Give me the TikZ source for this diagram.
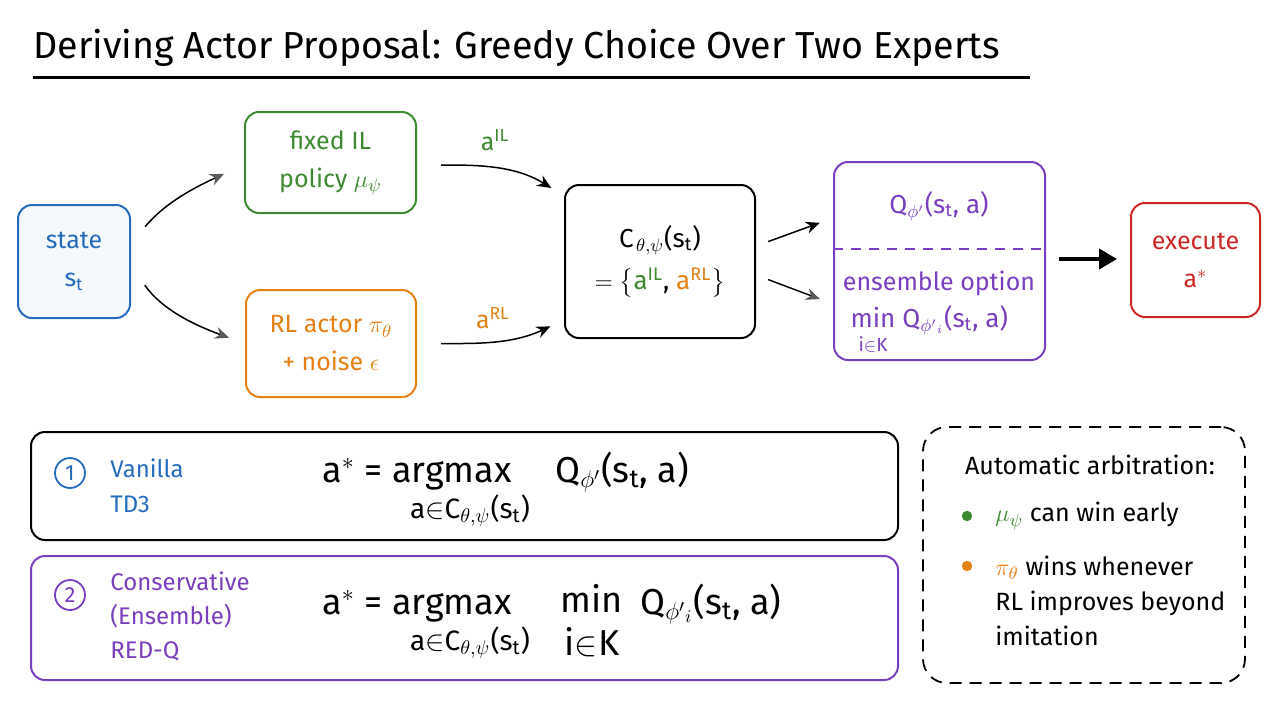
\documentclass[tikz,border=0pt]{standalone}
\usepackage{amsmath}
\usepackage{fontspec}
\setmainfont{Fira Sans}
\usetikzlibrary{arrows.meta,calc}
\definecolor{cblue}{RGB}{38,108,190}
\definecolor{cgreen}{RGB}{62,138,48}
\definecolor{corange}{RGB}{228,128,20}
\definecolor{cpurple}{RGB}{122,62,192}
\definecolor{cred}{RGB}{205,38,38}
\newcommand{\tx}[1]{\text{#1}}
\begin{document}
\begin{tikzpicture}[x=0.5pt,y=-0.5pt,
  box/.style={draw, rounded corners=7pt, line width=1pt, fill=white, inner sep=0pt},
  txt/.style={font=\fontsize{12.5}{19}\selectfont, align=center, inner sep=0pt},
  arr/.style={-{Stealth[length=7pt,width=6pt]}, line width=0.75pt},
  garr/.style={-{Stealth[length=7pt,width=6pt,color=black!65]}, line width=0.75pt},
  bigarr/.style={-{Triangle[length=9pt,width=10pt]}, line width=2pt},
  formula/.style={font=\fontsize{18}{20}\selectfont, inner sep=0pt},
  limtxt/.style={font=\fontsize{14}{16}\selectfont, inner sep=0pt},
]
\useasboundingbox (0,0) rectangle (1280,720);

% title
\node[anchor=base west, font=\fontsize{18.8}{22}\selectfont, inner sep=0pt] (title) at (33,58)
  {Deriving Actor Proposal: Greedy Choice Over Two Experts};
\draw[line width=1.5pt] (33,77) coordinate (ulA) -- (1030,77) coordinate (ulB);

% top row boxes
\node[box, txt, draw=cblue, fill=cblue!4, text=cblue, minimum width=56pt, minimum height=56.5pt] (state) at (74,261.5)
  {state\\s$_{\tx{t}}$};
\node[box, txt, draw=cgreen, text=cgreen, minimum width=85.5pt, minimum height=50.5pt] (il) at (330.5,162.5)
  {fixed IL\\policy $\mu_\psi$};
\node[box, txt, draw=corange, text=corange, minimum width=85pt, minimum height=53.5pt] (rl) at (331,343.5)
  {RL actor $\pi_\theta$\\+ noise $\epsilon$};
\node[box, txt, draw=black, minimum width=95pt, minimum height=76.5pt, font=\fontsize{13}{20}\selectfont] (cand) at (660,261.5)
  {C\kern1.2pt$_{\theta,\psi}$(s$_{\tx{t}}$)\\[1pt] $=\big\{${\color{cgreen}a$^{\tx{IL}}$}, {\color{corange}a$^{\tx{RL}}$}$\big\}$};
\node[box, draw=cpurple, minimum width=105.5pt, minimum height=99pt] (q) at (939.5,261) {};
\draw[cpurple, line width=0.8pt, dash pattern=on 5pt off 4pt] (q.west |- 0,249) coordinate (qdl) -- (q.east |- 0,249) coordinate (qdr);
\node[txt, text=cpurple, font=\fontsize{13}{20}\selectfont] (qtop) at (939,206) {Q$_{\phi'}$(s$_{\tx{t}}$, a)};
\node[txt, text=cpurple] (ens) at (939,283) {ensemble option};
\node[txt, text=cpurple, anchor=base, font=\fontsize{13}{20}\selectfont] (minw) at (873,327) {min};
\node[txt, text=cpurple, anchor=north, font=\fontsize{9.5}{11}\selectfont] (minsub) at (873,336) {i$\in$K};
\node[txt, text=cpurple, anchor=base west, font=\fontsize{13}{20}\selectfont] (minq) at (902,327)
  {Q$_{\phi'{}_i}$(s$_{\tx{t}}$, a)};
\node[box, txt, draw=cred, text=cred, minimum width=64.5pt, minimum height=57pt] (exec) at (1195.5,260)
  {execute\\a$^{*}$};

% connectors
\draw[garr, shorten <=11pt, shorten >=11pt] ([yshift=9pt]state.east) to[out=50,in=205] ([yshift=-1pt]il.west);
\draw[garr, shorten <=12pt, shorten >=8.5pt] ([yshift=-2pt]state.east) to[out=-55,in=160] (rl.west);
\draw[arr, shorten <=12pt, shorten >=7.5pt] ([yshift=-1.25pt]il.east) to[out=0,in=148] ([yshift=32.75pt]cand.west);
\draw[arr, shorten <=12pt, shorten >=7.5pt] (rl.east) to[out=0,in=205] ([yshift=-29.25pt]cand.west);
\node[text=cgreen, font=\fontsize{12.5}{15}\selectfont, inner sep=0pt] (lil) at (495,140) {a$^{\tx{IL}}$};
\node[text=corange, font=\fontsize{12.5}{15}\selectfont, inner sep=0pt] (lrl) at (493,318) {a$^{\tx{RL}}$};
\draw[arr, shorten <=6.5pt, shorten >=7pt] ([yshift=7.75pt]cand.east) -- ([yshift=21.5pt]q.west);
\draw[garr, shorten <=6.5pt, shorten >=7pt] ([yshift=-6.75pt]cand.east) -- ([yshift=-21.5pt]q.west);
\draw[bigarr, shorten <=6.5pt, shorten >=6.5pt] ([yshift=1pt]q.east) -- ([yshift=0.5pt]exec.west);

% bottom option boxes
\node[box, draw=black, minimum width=433.5pt, minimum height=54pt] (v1) at (464.5,486) {};
\node[circle, draw=cblue, line width=0.9pt, minimum size=15pt, inner sep=0pt, text=cblue, font=\fontsize{11}{12}\selectfont] (c1) at (70,473) {1};
\node[txt, anchor=west, align=left, text=cblue, font=\fontsize{12}{17.5}\selectfont] (v1lab) at (110,486) {Vanilla\\TD3};
\node[formula, anchor=base west] (f1) at (322,482) {a$^{*}$ = argmax};
\node[limtxt, anchor=north] (f1sub) at (470,494) {a$\in$C$_{\theta,\psi}$(s$_{\tx{t}}$)};
\node[formula, anchor=base west] (f1q) at (555,482) {Q$_{\phi'}$(s$_{\tx{t}}$, a)};

\node[box, draw=cpurple, minimum width=433.5pt, minimum height=62pt] (v2) at (464.5,618) {};
\node[circle, draw=cpurple, line width=0.9pt, minimum size=15pt, inner sep=0pt, text=cpurple, font=\fontsize{11}{12}\selectfont] (c2) at (70,595) {2};
\node[txt, anchor=west, align=left, text=cpurple, font=\fontsize{12}{17}\selectfont] (v2lab) at (110,616) {Conservative\\(Ensemble)\\RED-Q};
\node[formula, anchor=base west] (f2) at (322,614) {a$^{*}$ = argmax};
\node[limtxt, anchor=north] (f2sub) at (470,626) {a$\in$C$_{\theta,\psi}$(s$_{\tx{t}}$)};
\node[formula, anchor=base] (f2min) at (592,612) {min};
\node[formula, anchor=north] (f2minsub) at (592,627) {i$\in$K};
\node[formula, anchor=base west] (f2q) at (640,614) {Q$_{\phi'{}_i}$(s$_{\tx{t}}$, a)};

% arbitration box
\node[draw=black, line width=0.9pt, dash pattern=on 6pt off 4pt, rounded corners=12pt, minimum width=161pt, minimum height=128pt, inner sep=0pt] (arb) at (1084,555) {};
\node[txt] (arbt) at (1090,465) {Automatic arbitration:};
\fill[cgreen] (967,516) circle (2.6pt) coordinate (b1);
\fill[corange] (967,566) circle (2.6pt) coordinate (b2);
\node[txt, anchor=west, align=left] (a1) at (995,516) {{\color{cgreen}$\mu_\psi$} can win early};
\node[txt, anchor=west, align=left, font=\fontsize{12.5}{17.5}\selectfont] (a2) at (995,601)
  {{\color{corange}$\pi_\theta$} wins whenever\\RL improves beyond\\imitation};
\end{tikzpicture}
\end{document}
